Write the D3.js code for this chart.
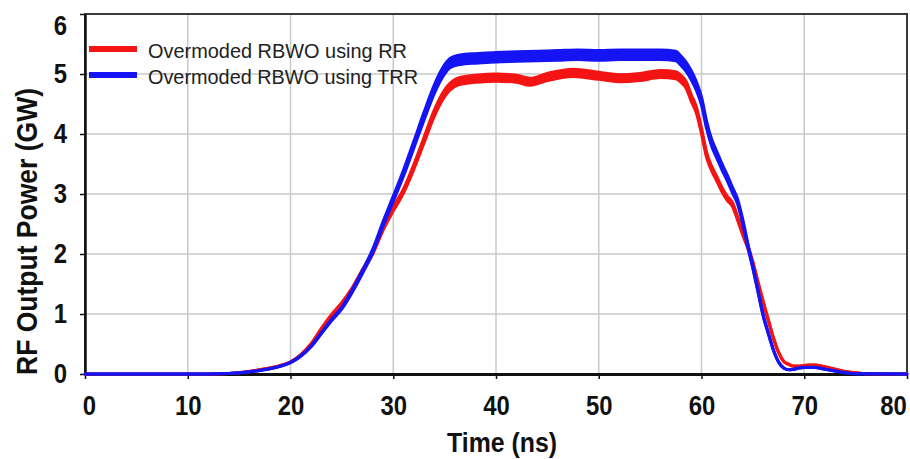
<!DOCTYPE html>
<html>
<head>
<meta charset="utf-8">
<script src="https://cdn.jsdelivr.net/npm/d3@7"></script>
<style>
  body { margin: 0; background: #fff; }
  svg { display: block; }
  text { font-family: "Liberation Sans", Arial, sans-serif; }
</style>
</head>
<body>
<div class="chart"></div>
<script>
const xTicks = [0, 10, 20, 30, 40, 50, 60, 70, 80];
const yTicks = [0, 1, 2, 3, 4, 5, 6];
const seriesNames = ["Overmoded RBWO using RR", "Overmoded RBWO using TRR"];

// RR (red) trace
const rrTime = [0, 10, 14, 17, 19,
  20, 21, 22, 23, 24, 25, 26, 27, 28, 29, 30, 31, 32, 33, 34,
  35, 36, 37, 38,
  40, 42, 43.3, 45, 47.5, 50, 52, 54, 56, 57.5,
  58, 58.5, 59, 59.5, 60, 60.5, 61, 61.5, 62, 62.5, 63, 63.5, 64, 64.5,
  65, 65.5, 66, 66.5, 67, 67.5, 68, 68.5, 69, 69.5, 70,
  70.5, 71, 72, 73, 74, 75, 76, 80];
const rrPower = [0, 0, 0.01, 0.07, 0.14,
  0.2, 0.32, 0.5, 0.75, 0.98, 1.18, 1.42, 1.72, 2.02, 2.42, 2.75, 3.05, 3.45, 3.9, 4.35,
  4.68, 4.85, 4.9, 4.92,
  4.94, 4.92, 4.87, 4.95, 5.02, 4.97, 4.93, 4.95, 5.0, 4.98,
  4.92, 4.82, 4.6, 4.4, 4.05, 3.65, 3.42, 3.25, 3.07, 2.93, 2.83, 2.6, 2.35, 2.12,
  1.85, 1.52, 1.2, 0.9, 0.6, 0.36, 0.21, 0.16, 0.13, 0.13, 0.14,
  0.15, 0.15, 0.12, 0.08, 0.04, 0.02, 0.005, 0];

// TRR (blue) trace
const trrTime = [0, 10, 14, 17, 19,
  20, 21, 22, 23, 24, 25, 26, 27, 28, 29, 30, 31, 32, 33, 34,
  35, 35.5, 36, 37, 38,
  40, 42, 44, 46, 48, 50, 52, 54, 56, 57.5,
  58, 58.5, 59, 59.5, 60, 60.5, 61, 61.5, 62, 62.5, 63, 63.5, 64, 64.5,
  65, 65.5, 66, 66.5, 67, 67.5, 68, 68.5, 69, 69.5, 70,
  71, 72, 73, 74, 75, 80];
const trrPower = [0, 0, 0.01, 0.06, 0.13,
  0.19, 0.3, 0.46, 0.68, 0.9, 1.1, 1.38, 1.7, 2.05, 2.5, 2.92, 3.35, 3.82, 4.3, 4.75,
  5.08, 5.18, 5.22, 5.25, 5.26,
  5.28, 5.29, 5.3, 5.31, 5.32, 5.31, 5.32, 5.32, 5.32, 5.3,
  5.22, 5.12, 4.98, 4.8, 4.55, 4.15, 3.85, 3.65, 3.45, 3.27, 3.07, 2.88, 2.55, 2.15,
  1.78, 1.38, 0.98, 0.68, 0.4, 0.2, 0.1, 0.07, 0.08, 0.1, 0.11,
  0.11, 0.08, 0.05, 0.02, 0.005, 0];

const margin = {top: 14, right: 3, bottom: 85, left: 85},
      width = 910 - margin.left - margin.right,
      height = 459 - margin.top - margin.bottom;

const svg = d3.select(".chart")
  .append("svg")
    .attr("width", width + margin.left + margin.right)
    .attr("height", height + margin.top + margin.bottom)
  .append("g")
    .attr("transform", `translate(${margin.left},${margin.top})`);

const x = d3.scaleLinear().domain([0, 80]).range([0, width]);
const y = d3.scaleLinear().domain([0, 6]).range([height, 0]);

// grid lines
svg.append("g")
  .selectAll("line")
  .data(xTicks.filter(d => d > 0 && d < 80))
  .join("line")
    .attr("x1", d => x(d)).attr("x2", d => x(d))
    .attr("y1", 0).attr("y2", height)
    .attr("stroke", "#c9c9c9").attr("stroke-width", 1.5);
svg.append("g")
  .selectAll("line")
  .data(yTicks.filter(d => d > 0 && d < 6))
  .join("line")
    .attr("x1", 0).attr("x2", width)
    .attr("y1", d => y(d)).attr("y2", d => y(d))
    .attr("stroke", "#c9c9c9").attr("stroke-width", 1.5);

// top and right border
svg.append("rect")
  .attr("width", width).attr("height", height)
  .attr("fill", "none").attr("stroke", "#3a3a3a").attr("stroke-width", 2);

// tick labels are a condensed bold face: squeeze each digit to ~13px
function tickText(sel){
  sel.attr("font-size", 28).attr("font-weight", "bold").attr("fill", "#111")
    .attr("lengthAdjust", "spacingAndGlyphs")
    .attr("textLength", function(){ return this.textContent.length * 13.3 });
}

// axes
const xAxis = svg.append("g")
  .attr("transform", `translate(0,${height})`)
  .call(d3.axisBottom(x).tickValues(xTicks).tickFormat(d3.format("d"))
    .tickSize(5).tickSizeOuter(0).tickPadding(16));
xAxis.select(".domain").attr("stroke", "#111").attr("stroke-width", 3);
xAxis.selectAll(".tick line").attr("stroke", "#111").attr("stroke-width", 1.5);
xAxis.selectAll("text").call(tickText);
xAxis.selectAll(".tick").filter(d => d === 0).select("text").attr("x", 4);
xAxis.selectAll(".tick").filter(d => d === 80).select("text").attr("x", -14);

const yAxis = svg.append("g")
  .call(d3.axisLeft(y).tickValues(yTicks).tickFormat(d3.format("d"))
    .tickSize(5).tickSizeOuter(0).tickPadding(13));
yAxis.select(".domain").attr("stroke", "#111").attr("stroke-width", 2.5);
yAxis.selectAll(".tick line").attr("stroke", "#111").attr("stroke-width", 1.5);
yAxis.selectAll("text").call(tickText);
// the top label sits a bit under the frame in the original
yAxis.selectAll(".tick").filter(d => d === 6).select("text").attr("y", 12);

// traces, with the noise band drawn as a thin area around each line
const series = [
  {name: seriesNames[0], time: rrTime, power: rrPower, color: "#f41414", noise: 0.012},
  {name: seriesNames[1], time: trrTime, power: trrPower, color: "#1414f4", noise: 0.015}
];

for (let s of series) {
  let pts = s.time.map((t, i) => ({t: t, v: s.power[i]}));
  let band = d3.area()
    .x(d => x(d.t))
    .y0(d => y(d.v * (1 - s.noise)))
    .y1(d => y(d.v * (1 + s.noise)))
    .curve(d3.curveMonotoneX);
  let line = d3.line()
    .x(d => x(d.t))
    .y(d => y(d.v))
    .curve(d3.curveMonotoneX);
  svg.append("path").datum(pts)
    .attr("d", band)
    .attr("fill", s.color).attr("stroke", s.color).attr("stroke-width", 3)
    .attr("stroke-linejoin", "round");
  svg.append("path").datum(pts)
    .attr("d", line)
    .attr("fill", "none").attr("stroke", s.color).attr("stroke-width", 3);
}

// legend
const legendLen = [259, 270];
const legend = svg.append("g");
series.forEach((s, i) => {
  let row = legend.append("g").attr("transform", `translate(4,${35 + i * 26})`);
  row.append("line")
    .attr("x1", 0).attr("x2", 48)
    .attr("stroke", s.color).attr("stroke-width", 6);
  row.append("text")
    .attr("x", 59).attr("y", 9)
    .attr("font-size", 21).attr("fill", "#222")
    .attr("textLength", legendLen[i]).attr("lengthAdjust", "spacingAndGlyphs")
    .text(s.name);
});

// axis titles
svg.append("text")
  .attr("transform", `translate(-48,${(88 + 375) / 2 - margin.top}) rotate(-90)`)
  .attr("text-anchor", "middle")
  .attr("font-size", 30).attr("font-weight", "bold").attr("fill", "#111")
  .attr("textLength", 287).attr("lengthAdjust", "spacingAndGlyphs")
  .text("RF Output Power (GW)");

svg.append("text")
  .attr("x", 417).attr("y", 438)
  .attr("text-anchor", "middle")
  .attr("font-size", 28).attr("font-weight", "bold").attr("fill", "#111")
  .attr("textLength", 110).attr("lengthAdjust", "spacingAndGlyphs")
  .text("Time (ns)");
</script>
</body>
</html>
